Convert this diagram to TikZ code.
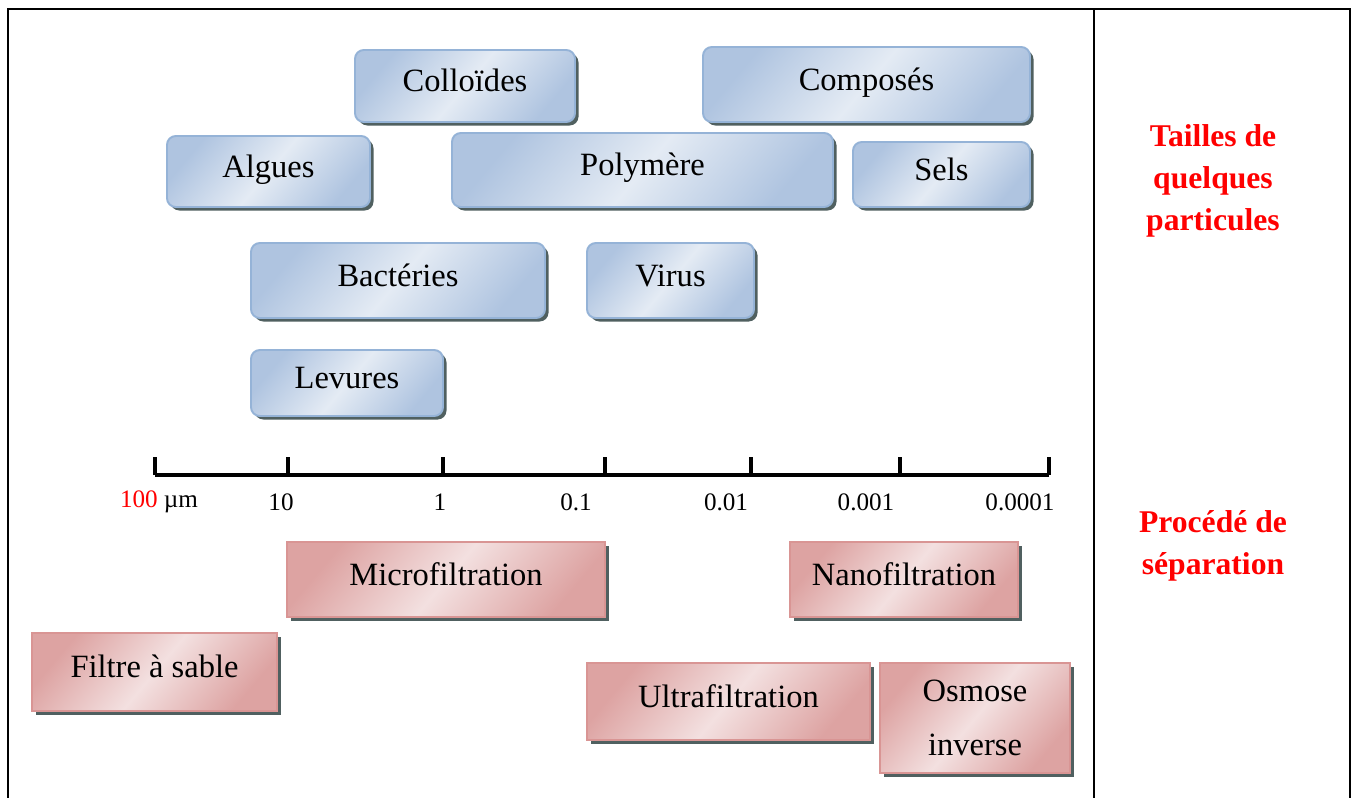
\documentclass[tikz,border=0pt]{standalone}
\usepackage{fontspec}
\setmainfont{Liberation Serif}
\usetikzlibrary{shadows}

\definecolor{blueedge}{HTML}{95B3D7}
\definecolor{bluedark}{HTML}{AFC4E0}
\definecolor{bluelight}{HTML}{E4EBF4}
\definecolor{pinkedge}{HTML}{D99594}
\definecolor{pinkdark}{HTML}{DDA3A2}
\definecolor{pinklight}{HTML}{F3E0E0}
\definecolor{shadowgray}{HTML}{506060}

\tikzset{
  boxbase/.style={draw, line width=1.1pt, inner sep=0pt,
    font=\fontsize{18.5}{31}\selectfont,
    drop shadow={shadow xshift=0.07cm, shadow yshift=-0.07cm,
      fill=shadowgray, opacity=1}},
  oneline/.style={text height=0.45cm, text depth=0.22cm},
  blubox/.style={boxbase, oneline, draw=blueedge, rounded corners=5pt,
    top color=bluedark, bottom color=bluedark, middle color=bluelight,
    shading angle=50},
  pinkbase/.style={boxbase, draw=pinkedge,
    top color=pinkdark, bottom color=pinkdark, middle color=pinklight,
    shading angle=50},
  pinkbox/.style={pinkbase, oneline},
  ticklabel/.style={font=\fontsize{14.3}{16}\selectfont},
  sidetitle/.style={align=center, text=red, font=\bfseries\fontsize{18}{24}\selectfont}
}

\begin{document}
\begin{tikzpicture}
    \useasboundingbox (0,0) rectangle (27.1,-15.96);

    % Table frame
    \draw[line width=1.2pt] (0.16,-15.96) -- (0.16,-0.18) -- (27.0,-0.18) -- (27.0,-15.96);
    \draw[line width=1.2pt] (21.88,-0.18) -- (21.88,-15.96);

    % Particle sizes
    \node[blubox, minimum width=4.4cm, minimum height=1.44cm] (colloides) at (9.30,-1.72) {Colloïdes};
    \node[blubox, minimum width=6.54cm, minimum height=1.5cm] (composes) at (17.33,-1.69) {Composés};
    \node[blubox, minimum width=4.06cm, minimum height=1.42cm] (algues) at (5.37,-3.43) {Algues};
    \node[blubox, minimum width=7.62cm, minimum height=1.48cm] (polymere) at (12.85,-3.40) {Polymère};
    \node[blubox, minimum width=3.54cm, minimum height=1.3cm] (sels) at (18.83,-3.49) {Sels};
    \node[blubox, minimum width=5.88cm, minimum height=1.5cm] (bacteries) at (7.96,-5.61) {Bactéries};
    \node[blubox, minimum width=3.34cm, minimum height=1.5cm] (virus) at (13.41,-5.61) {Virus};
    \node[blubox, minimum width=3.84cm, minimum height=1.32cm] (levures) at (6.94,-7.66) {Levures};

    % Size scale
    \draw[line width=2.6pt] (3.1,-9.5) -- (20.98,-9.5);
    \draw[line width=1.9pt] (3.1,-9.5) -- (3.1,-9.14);
    \draw[line width=1.9pt] (5.76,-9.5) -- (5.76,-9.14);
    \draw[line width=1.9pt] (8.86,-9.5) -- (8.86,-9.14);
    \draw[line width=1.9pt] (12.1,-9.5) -- (12.1,-9.14);
    \draw[line width=1.9pt] (15.02,-9.5) -- (15.02,-9.14);
    \draw[line width=1.9pt] (18.0,-9.5) -- (18.0,-9.14);
    \draw[line width=1.9pt] (20.98,-9.5) -- (20.98,-9.14);
    \node[ticklabel] (lab100) at (3.18,-10.04) {\textcolor{red}{100} µm};
    \node[ticklabel] (lab10) at (5.62,-10.04) {10};
    \node[ticklabel] (lab1) at (8.8,-10.04) {1};
    \node[ticklabel] (lab01) at (11.52,-10.04) {0.1};
    \node[ticklabel] (lab001) at (14.52,-10.04) {0.01};
    \node[ticklabel] (lab0001) at (17.32,-10.04) {0.001};
    \node[ticklabel] (lab00001) at (20.4,-10.04) {0.0001};

    % Separation processes
    \node[pinkbox, minimum width=6.36cm, minimum height=1.5cm] (micro) at (8.92,-11.59) {Microfiltration};
    \node[pinkbox, minimum width=4.56cm, minimum height=1.5cm] (nano) at (18.08,-11.59) {Nanofiltration};
    \node[pinkbox, minimum width=4.9cm, minimum height=1.56cm] (sable) at (3.09,-13.44) {Filtre à sable};
    \node[pinkbox, minimum width=5.66cm, minimum height=1.54cm] (ultra) at (14.57,-14.03) {Ultrafiltration};
    \node[pinkbase, align=center, minimum width=3.8cm, minimum height=2.2cm] (osmose) at (19.5,-14.36) {Osmose\\inverse};

    % Right column
    \node[sidetitle] (tailles) at (24.26,-3.62) {Tailles de\\quelques\\particules};
    \node[sidetitle] (procede) at (24.26,-10.91) {Procédé de\\séparation};
\end{tikzpicture}
\end{document}
